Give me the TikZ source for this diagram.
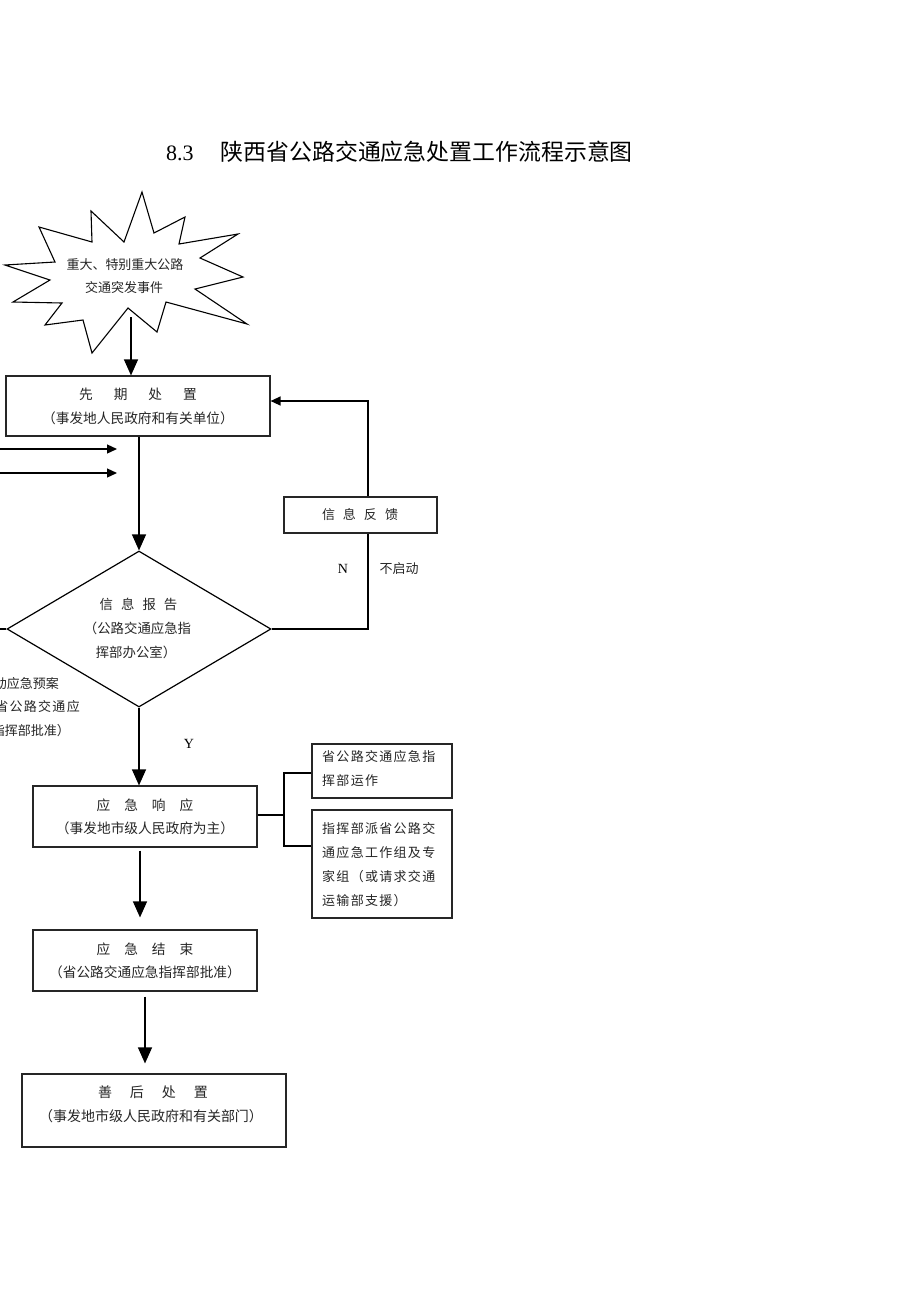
\documentclass[tikz,border=0pt]{standalone}
\usepackage{fontspec}
\setmainfont{Liberation Serif}
\newfontfamily\cjk{Noto Sans CJK SC}
\newfontfamily\cjksp[LetterSpace=10]{Noto Sans CJK SC}
\usetikzlibrary{arrows.meta,shapes.geometric}
\begin{document}
\begin{tikzpicture}[x=1pt,y=-1pt,
  box/.style={draw=black!85, line width=1.2pt, inner sep=0pt},
  txt/.style={font=\cjk\fontsize{13}{13}\selectfont, inner sep=0pt, text height=10.5pt, text depth=2pt, text=black!85},
  btxt/.style={font=\cjk\fontsize{13.7}{14}\selectfont, inner sep=0pt, text height=11pt, text depth=2pt, text=black!85},
  txtsp/.style={font=\cjksp\fontsize{13}{13}\selectfont, inner sep=0pt, text height=10.5pt, text depth=2pt, text=black!85},
  bigarr/.style={-{Triangle[length=16pt,width=14pt]}, line width=1.3pt},
  smallarr/.style={-{Triangle[length=10pt,width=9pt]}, line width=1.3pt},
  conn/.style={line width=1.2pt}]
\useasboundingbox (0,0) rectangle (920,1302);
\clip (0,0) rectangle (920,1302);
\fill[white] (0,0) rectangle (920,1302);

% title
\node[anchor=west, inner sep=0pt] (title) at (166,152)
  {\fontsize{22}{22}\selectfont 8.3\hspace{27pt}{\cjk\fontsize{22.9}{23}\selectfont 陕西省公路交通应急处置工作流程示意图}};

% starburst
\draw[line width=1.1pt, line join=miter] (142,192) -- (154,233) -- (185,217) -- (179,244) -- (238,234) -- (200,258)
  -- (243,277) -- (195,289) -- (247,324) -- (166,302) -- (157,332) -- (128,308) -- (92,353)
  -- (83,320) -- (45,325) -- (62,303) -- (13,302) -- (50,280) -- (5,265) -- (55,262)
  -- (39,227) -- (92,242) -- (91,211) -- (124,242) -- cycle;
\node[txt] (s1) at (125,265) {重大、特别重大公路};
\node[txt] (s2) at (124,288) {交通突发事件};
\coordinate (starb) at (131,317);

% box 1
\node[box, minimum width=264pt, minimum height=60pt] (b1) at (138,406) {};
\node[btxt] (b1a) at (138,395) {先\hspace{21pt}期\hspace{21pt}处\hspace{21pt}置};
\node[btxt] (b1b) at (138,419) {（事发地人民政府和有关单位）};
\draw[bigarr] (starb) -- (starb |- b1.north);

% left arrows
\coordinate (l1s) at (0,449); \coordinate (l1e) at (117,449);
\coordinate (l2s) at (0,473); \coordinate (l2e) at (117,473);
\draw[smallarr] (l1s) -- (l1e);
\draw[smallarr] (l2s) -- (l2e);

% diamond
\node[draw, diamond, line width=1.2pt, minimum width=264pt, minimum height=156pt, inner sep=0pt] (dia) at (139,629) {};
\node[txt, font=\cjk\fontsize{13.4}{14}\selectfont] (d1) at (138.5,605) {信\hspace{8pt}息\hspace{8pt}报\hspace{8pt}告};
\node[txt, font=\cjk\fontsize{13.4}{14}\selectfont] (d2) at (137.5,629) {（公路交通应急指};
\node[txt, font=\cjk\fontsize{13.4}{14}\selectfont] (d3) at (136,653) {挥部办公室）};
\draw[bigarr] (b1.south -| dia.north) -- (dia.north);
\coordinate (l3s) at (0,629);
\draw[conn] (l3s) -- (dia.west);

% left clipped text (cut by the page edge as in the reference)
\node[txt, anchor=east] (lt1) at (59,684) {动应急预案};
\node[txtsp, anchor=east] (lt2) at (80,707) {省公路交通应};
\node[txt, anchor=east] (lt3) at (70,731) {指挥部批准）};

% feedback
\node[box, minimum width=153pt, minimum height=36pt] (fb) at (360.5,515) {};
\node[txt] (fbt) at (360,515) {信\hspace{8pt}息\hspace{8pt}反\hspace{8pt}馈};
\draw[conn] (dia.east) -| ([xshift=7.5pt]fb.south);
\draw[smallarr] ([xshift=7.5pt]fb.north) |- ([yshift=5pt]b1.east);
\node[inner sep=0pt, font=\fontsize{14}{14}\selectfont] (N) at (343,569) {N};
\node[txt] (nq) at (399,569) {不启动};

% box 2
\node[box, minimum width=224pt, minimum height=61pt] (b2) at (145,816.5) {};
\node[btxt] (b2a) at (145,806) {应\hspace{14pt}急\hspace{14pt}响\hspace{14pt}应};
\node[btxt] (b2b) at (145,829) {（事发地市级人民政府为主）};
\draw[bigarr] (dia.south) -- (dia.south |- b2.north);
\node[inner sep=0pt, font=\fontsize{14}{14}\selectfont] (Y) at (189,744) {Y};

% right boxes
\node[box, minimum width=140pt, minimum height=54pt] (r1) at (382,771) {};
\node[txtsp, anchor=west] (r1a) at (322,757) {省公路交通应急指};
\node[txtsp, anchor=west] (r1b) at (322,781) {挥部运作};
\node[box, minimum width=140pt, minimum height=108pt] (r2) at (382,864) {};
\node[txtsp, anchor=west] (r2a) at (322,829) {指挥部派省公路交};
\node[txtsp, anchor=west] (r2b) at (322,853) {通应急工作组及专};
\node[txtsp, anchor=west] (r2c) at (322,877) {家组（或请求交通};
\node[txtsp, anchor=west] (r2d) at (322,901) {运输部支援）};
\coordinate (bj) at (284,815);
\draw[conn] (b2.east |- bj) -- (bj);
\draw[conn] ([yshift=-2pt]r1.west) -| (bj) |- ([yshift=18pt]r2.west);

% box 3
\node[box, minimum width=224pt, minimum height=61pt] (b3) at (145,960.5) {};
\node[btxt] (b3a) at (145,950) {应\hspace{14pt}急\hspace{14pt}结\hspace{14pt}束};
\node[btxt] (b3b) at (145,973) {（省公路交通应急指挥部批准）};
\draw[bigarr, shorten <=3pt, shorten >=12pt] ([xshift=-5pt]b2.south) -- ([xshift=-5pt]b3.north);

% box 4
\node[box, minimum width=264pt, minimum height=73pt] (b4) at (154,1110.5) {};
\node[btxt, font=\cjk\fontsize{14}{14}\selectfont] (b4a) at (153,1093) {善\hspace{18pt}后\hspace{18pt}处\hspace{18pt}置};
\node[btxt, font=\cjk\fontsize{14}{14}\selectfont] (b4b) at (151,1117) {（事发地市级人民政府和有关部门）};
\draw[bigarr, shorten <=5pt, shorten >=10pt] (b3.south) -- (b3.south |- b4.north);
\end{tikzpicture}
\end{document}
